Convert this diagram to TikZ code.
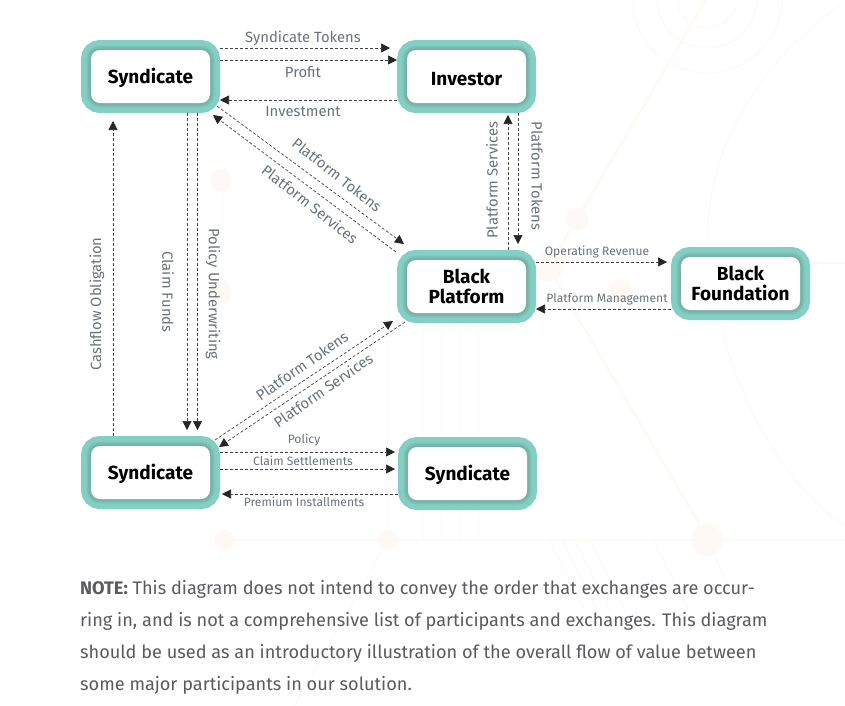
\documentclass[tikz,border=0pt]{standalone}
\usepackage{fontspec}
\setmainfont{Fira Sans}
\usetikzlibrary{arrows.meta,calc}
\definecolor{teal1}{HTML}{84CFC3}
\definecolor{teal2}{HTML}{82CBBF}
\definecolor{teal3}{HTML}{7FC5B9}
\definecolor{teal4}{HTML}{7CBEB3}
\definecolor{teal5}{HTML}{79B7AC}
\definecolor{teal6}{HTML}{76B0A6}
\definecolor{bgline}{HTML}{FFF9F5}
\definecolor{lblcol}{HTML}{6A727B}
\definecolor{notecol}{HTML}{5A5A60}
\definecolor{flowcol}{HTML}{444444}
\tikzset{
  partbox/.style={rounded corners=9pt,minimum width=119pt,minimum height=53pt,inner sep=0pt,outer sep=10pt,
    align=center,font=\fontsize{19}{19.5}\selectfont\bfseries,text=black,
    execute at begin node={\rule{0pt}{18.5pt}},
    preaction={draw=teal1,line width=20pt},
    preaction={draw=teal2,line width=10pt},
    preaction={draw=teal3,line width=8.5pt},
    preaction={draw=teal4,line width=7pt},
    preaction={draw=teal5,line width=5pt},
    preaction={draw=teal6,line width=3pt},
    fill=white},
  flow/.style={draw=flowcol,line width=0.7pt,dash pattern=on 3pt off 2pt,
    -{Triangle[length=9pt,width=9pt,color=black!85]}},
  lbl/.style={text=lblcol,inner sep=0pt,font=\fontsize{14.8}{15}\selectfont},
  lbs/.style={text=lblcol,inner sep=0pt,font=\fontsize{12.1}{13}\selectfont},
  bgthick/.style={draw=bgline,line width=2.4pt},
  bgthin/.style={draw=bgline,line width=1pt},
  bgdot/.style={fill=bgline,draw=none}
}
\begin{document}
\begin{tikzpicture}[x=1pt,y=-1pt]
\useasboundingbox[fill=white] (0,0) rectangle (845,705);
% faint background artwork
\begin{scope}
\clip (0,0) rectangle (845,705);
\draw[bgthin] (707,-2) circle[radius=30];
\draw[bgthin] (707,-2) circle[radius=50];
\draw[bgthin] (707,-2) circle[radius=75];
\draw[bgthick] (707,-2) -- (577,219) -- (548,267) -- (700,525);
\draw[bgthin] (847,0) .. controls (760,60) and (705,150) .. (708,240) .. controls (712,340) and (760,470) .. (847,527);
\draw[bgthick] (225,540) -- (845,540);
\draw[bgthick] (812,263) -- (845,263);
\draw[bgthin] (221,180) -- (221,292);
\draw[bgthin] (387,300) -- (387,540);
\foreach \vx in {423,441,459,477} \draw[bgthin] (\vx,325) -- (\vx,540);
\foreach \sx in {549,562,575,590,653} \draw[bgthin] (\sx,540) -- (\sx+35,610);
\draw[bgthin] (388,540) -- (295,705);
\draw[bgthin] (707,540) -- (735,600);
\fill[bgdot] (577,219) circle[radius=11];
\fill[bgdot] (548,267) circle[radius=15];
\fill[bgdot] (620,290) circle[radius=11];
\fill[bgdot] (221,180) circle[radius=11];
\fill[bgdot] (221,292) circle[radius=11];
\fill[bgdot] (224.5,540) circle[radius=10];
\fill[bgdot] (388,540) circle[radius=10];
\fill[bgdot] (707,540) circle[radius=16];
\end{scope}
% participants
\node[partbox] (s1) at (150.5,76.5) {Syndicate};
\node[partbox] (inv) at (466.5,76.5) {Investor};
\node[partbox] (pf) at (466.5,286.5) {Black\\Platform};
\node[partbox] (fd) at (740.5,283.5) {Black\\Foundation};
\node[partbox] (s2) at (150.5,472.5) {Syndicate};
\node[partbox] (s3) at (467.5,473.5) {Syndicate};
% connectors
\draw[flow] (s1.east |- 0,48) -- ($(inv.west |- 0,48)+(-7,0)$);
\draw[flow] (s1.east |- 0,60) -- (inv.west |- 0,60);
\draw[flow] (inv.west |- 0,100) -- (s1.east |- 0,100);
\draw[flow] ($(s1.south east)+(-3,-7)$) -- ($(pf.north west)+(7,-6)$);
\draw[flow] ($(pf.north west)+(-1,2)$) -- ($(s1.south east)+(-7,2)$);
\draw[flow] (s1.south -| 187,0) -- ($(s2.north -| 187,0)+(0,-6)$);
\draw[flow] (s1.south -| 197.5,0) -- ($(s2.north -| 197.5,0)+(0,-6)$);
\draw[flow] (s2.north -| 113,0) -- ($(s1.south -| 113,0)+(0,8)$);
\draw[flow] (inv.south -| 518,0) -- ($(pf.north -| 518,0)+(0,-6)$);
\draw[flow] (pf.north -| 508,0) -- ($(inv.south -| 508,0)+(0,2)$);
\draw[flow] (pf.east |- 0,262) -- ($(fd.west |- 0,262)+(-4,0)$);
\draw[flow] (fd.west |- 0,309) -- (pf.east |- 0,309);
\draw[flow] ($(s2.north east)+(-5,4)$) -- ($(pf.south west)+(-4,-2)$);
\draw[flow] ($(pf.south west)+(8,-1)$) -- ($(s2.north east)+(-1,11)$);
\draw[flow] (s2.east |- 0,452) -- ($(s3.west |- 0,452)+(-3,0)$);
\draw[flow] (s2.east |- 0,469) -- ($(s3.west |- 0,469)+(-3,0)$);
\draw[flow] (s3.west |- 0,494) -- ($(s2.east |- 0,494)+(2,0)$);
% connector labels
\node[lbl] (l1) at (303,38) {Syndicate Tokens};
\node[lbl] (l2) at (303,72) {Profit};
\node[lbl] (l3) at (303,111) {Investment};
\node[lbl,rotate=-38] (l4) at (337,175) {Platform Tokens};
\node[lbl,rotate=-38] (l5) at (310,204) {Platform Services};
\node[lbl,rotate=90] (l6) at (492,180) {Platform Services};
\node[lbl,rotate=-90] (l7) at (537,176) {Platform Tokens};
\node[lbs] (l8) at (597,252) {Operating Revenue};
\node[lbs] (l9) at (607,299) {Platform Management};
\node[lbl,rotate=90] (l10) at (97,304) {Cashflow Obligation};
\node[lbl,rotate=-90] (l11) at (168,292) {Claim Funds};
\node[lbl,rotate=-90] (l12) at (213,294) {Policy Underwriting};
\node[lbl,rotate=35] (l13) at (302,366) {Platform Tokens};
\node[lbl,rotate=35] (l14) at (323,390) {Platform Services};
\node[lbs] (l15) at (304,440) {Policy};
\node[lbs] (l16) at (303,461) {Claim Settlements};
\node[lbs] (l17) at (304,502) {Premium Installments};
% note
\node[anchor=north west,inner sep=0pt,align=left,text=notecol,font=\fontsize{18.15}{32}\selectfont] (note) at (80,580.5)
 {\textbf{NOTE:} This diagram does not intend to convey the order that exchanges are occur-\\
  ring in, and is not a comprehensive list of participants and exchanges. This diagram\\
  should be used as an introductory illustration of the overall flow of value between\\
  some major participants in our solution.};
\end{tikzpicture}
\end{document}
